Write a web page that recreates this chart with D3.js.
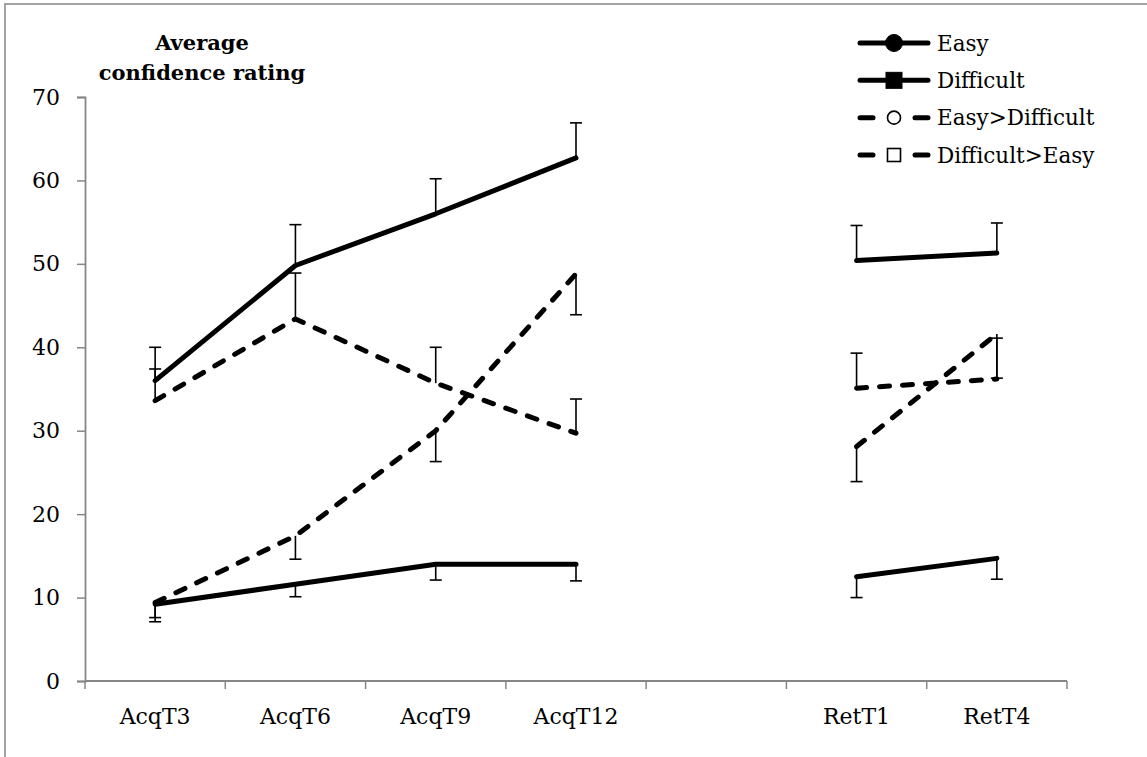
<!DOCTYPE html>
<html>
<head>
<meta charset="utf-8">
<script src="https://cdn.jsdelivr.net/npm/d3@7"></script>
<style>
  html, body { margin: 0; padding: 0; background: #fff; }
  svg text { font-family: "DejaVu Serif", "Liberation Serif", serif; fill: #000; }
</style>
</head>
<body>
<svg id="chart" width="1147" height="757"></svg>
<script>
// ---- data ----
const categories = ["AcqT3", "AcqT6", "AcqT9", "AcqT12", "", "RetT1", "RetT4"];
const yTicks = [0, 10, 20, 30, 40, 50, 60, 70];
const seriesNames = ["Easy", "Difficult", "Easy>Difficult", "Difficult>Easy"];
const easy         = [36.0, 49.8, 56.0, 62.7, null, 50.4, 51.3];
const easyErr      = [4.0, 4.9, 4.2, 4.2, null, 4.2, 3.6];
const difficult    = [9.2, 11.6, 14.0, 14.0, null, 12.5, 14.7];
const difficultErr = [1.6, 1.5, 1.9, 2.0, null, 2.5, 2.5];
const easyDiff     = [33.6, 43.4, 35.7, 29.7, null, 35.1, 36.2];
const easyDiffErr  = [3.8, 5.5, 4.3, 4.1, null, 4.2, 4.9];
const diffEasy     = [9.4, 17.4, 30.0, 48.8, null, 28.1, 41.6];
const diffEasyErr  = [2.3, 2.8, 3.7, 4.9, null, 4.2, 5.3];

const series = [
  { name: seriesNames[0], values: easy, err: easyErr, dir: 1, dashed: false, marker: "circle", filled: true },
  { name: seriesNames[1], values: difficult, err: difficultErr, dir: -1, dashed: false, marker: "square", filled: true },
  { name: seriesNames[2], values: easyDiff, err: easyDiffErr, dir: 1, dashed: true, marker: "circle", filled: false },
  { name: seriesNames[3], values: diffEasy, err: diffEasyErr, dir: -1, dashed: true, marker: "square", filled: false }
];

const svg = d3.select("#chart");

// outer frame
svg.append("rect").attr("x", 5).attr("y", 4).attr("width", 1200).attr("height", 800)
  .attr("fill", "none").attr("stroke", "#868686").attr("stroke-width", 1.5);

const x = d3.scaleBand().domain(d3.range(categories.length)).range([85, 1067]).paddingInner(0).paddingOuter(0);
const y = d3.scaleLinear().domain([0, 70]).range([681, 97]);
const axisColor = "#868686";

// y axis
const yAxis = svg.append("g").attr("transform", "translate(85,0)")
  .call(d3.axisLeft(y).tickValues(yTicks).tickSize(8).tickPadding(17).tickFormat(d3.format("d")));
yAxis.select(".domain").attr("stroke", axisColor).attr("stroke-width", 1.8);
yAxis.selectAll(".tick line").attr("stroke", axisColor).attr("stroke-width", 1.5);
yAxis.selectAll(".tick text").style("font-family", "DejaVu Serif").style("font-size", "22px").attr("fill", "#000");

// x axis (ticks at category boundaries)
const boundaries = d3.range(categories.length + 1).map(i => 85 + i * x.bandwidth());
const xg = svg.append("g");
xg.append("line").attr("x1", 85).attr("x2", 1067).attr("y1", y(0)).attr("y2", y(0))
  .attr("stroke", axisColor).attr("stroke-width", 1.8);
xg.selectAll("line.tk").data(boundaries).join("line").attr("class", "tk")
  .attr("x1", d => d).attr("x2", d => d).attr("y1", y(0)).attr("y2", y(0) + 8)
  .attr("stroke", axisColor).attr("stroke-width", 1.5);
xg.selectAll("text").data(categories).join("text")
  .attr("x", (d, i) => x(i) + x.bandwidth() / 2).attr("y", 724)
  .attr("text-anchor", "middle").style("font-size", "22px").text(d => d);

// lines
const line = d3.line()
  .defined(d => d.v !== null)
  .x(d => x(d.i) + x.bandwidth() / 2)
  .y(d => y(d.v));

series.forEach(s => {
  const pts = s.values.map((v, i) => ({ i, v }));
  svg.append("path").datum(pts).attr("d", line)
    .attr("fill", "none").attr("stroke", "#000").attr("stroke-width", 5)
    .attr("stroke-linecap", "round").attr("stroke-linejoin", "round")
    .attr("stroke-dasharray", s.dashed ? "10,13" : null);
});

// error bars
series.forEach(s => {
  const pts = s.values.map((v, i) => ({ i, v, e: s.err[i] })).filter(d => d.v !== null);
  const g = svg.append("g").attr("stroke", "#000").attr("stroke-width", 1.6);
  g.selectAll("line.v").data(pts).join("line").attr("class", "v")
    .attr("x1", d => x(d.i) + x.bandwidth() / 2).attr("x2", d => x(d.i) + x.bandwidth() / 2)
    .attr("y1", d => y(d.v)).attr("y2", d => y(d.v + s.dir * d.e));
  g.selectAll("line.c").data(pts).join("line").attr("class", "c")
    .attr("x1", d => x(d.i) + x.bandwidth() / 2 - 6).attr("x2", d => x(d.i) + x.bandwidth() / 2 + 6)
    .attr("y1", d => y(d.v + s.dir * d.e)).attr("y2", d => y(d.v + s.dir * d.e));
});

// title
const title = svg.append("text").attr("text-anchor", "middle")
  .style("font-weight", "bold").style("font-size", "21px");
title.append("tspan").attr("x", 202).attr("y", 50).text("Average");
title.append("tspan").attr("x", 202).attr("y", 80).text("confidence rating");

// legend
const legY = d3.scalePoint().domain(seriesNames).range([43, 155]);
const lg = svg.append("g");
series.forEach(s => {
  const cy = legY(s.name);
  if (s.dashed) {
    [[860, 873], [915, 928]].forEach(([a, b]) => {
      lg.append("line").attr("x1", a).attr("x2", b).attr("y1", cy).attr("y2", cy)
        .attr("stroke", "#000").attr("stroke-width", 5).attr("stroke-linecap", "round");
    });
  } else {
    lg.append("line").attr("x1", 860).attr("x2", 928).attr("y1", cy).attr("y2", cy)
      .attr("stroke", "#000").attr("stroke-width", 5).attr("stroke-linecap", "round");
  }
  if (s.marker === "circle") {
    lg.append("circle").attr("cx", 894).attr("cy", cy).attr("r", s.filled ? 8.5 : 6.5)
      .attr("fill", s.filled ? "#000" : "#fff").attr("stroke", "#000").attr("stroke-width", s.filled ? 1 : 1.6);
  } else {
    const h = s.filled ? 8 : 6.5;
    lg.append("rect").attr("x", 894 - h).attr("y", cy - h).attr("width", 2 * h).attr("height", 2 * h)
      .attr("fill", s.filled ? "#000" : "#fff").attr("stroke", "#000").attr("stroke-width", s.filled ? 1 : 1.6);
  }
  lg.append("text").attr("x", 937).attr("y", cy).attr("dy", "0.35em")
    .style("font-size", "21.5px").text(s.name);
});
</script>
</body>
</html>
